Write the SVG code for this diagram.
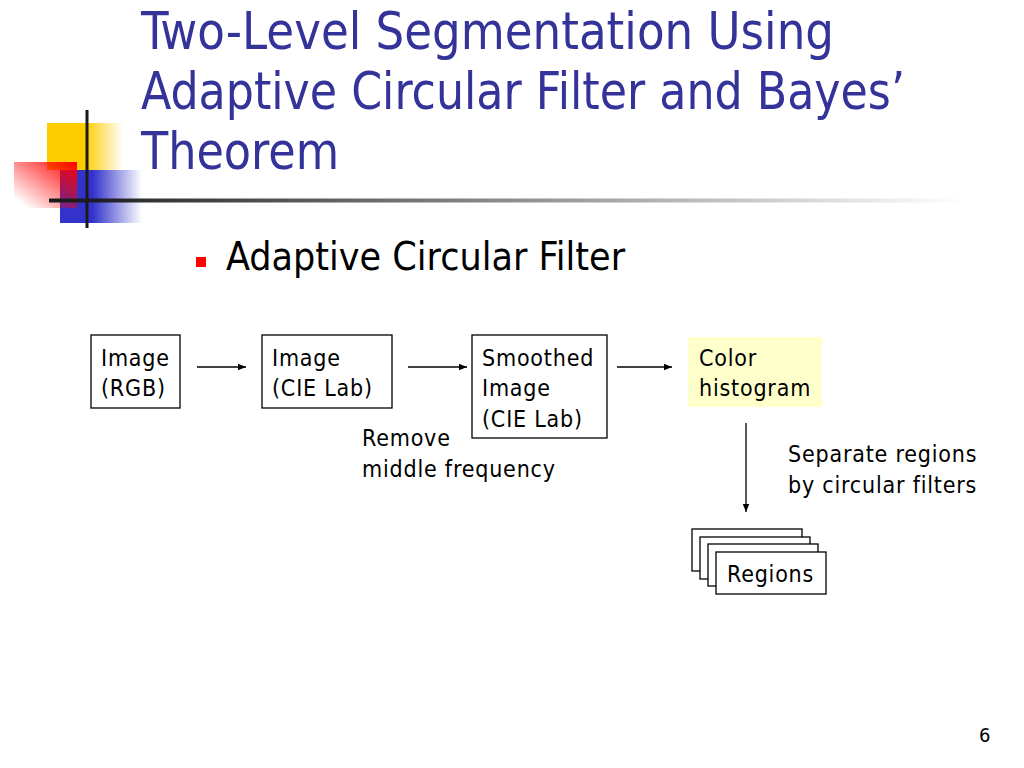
<svg xmlns="http://www.w3.org/2000/svg" width="1024" height="768" viewBox="0 0 1024 768">
<defs>
<style>
.title{font-family:"DejaVu Sans Condensed","DejaVu Sans",sans-serif;font-size:51px;fill:#333399}
.body{font-family:"DejaVu Sans Condensed","DejaVu Sans",sans-serif;font-size:39px;fill:#000}
.t{font-family:"DejaVu Sans Condensed","DejaVu Sans",sans-serif;font-size:23px;fill:#000;letter-spacing:0.8px}
.box{fill:#fff;stroke:#000;stroke-width:1.3}
.conn{stroke:#000;stroke-width:1.3;fill:none;marker-end:url(#ah)}
</style>
<marker id="ah" viewBox="0 0 10 10" refX="10" refY="5" markerWidth="8" markerHeight="8" markerUnits="userSpaceOnUse" orient="auto"><path d="M0,1 L10,5 L0,9 z" fill="#000"/></marker>
<linearGradient id="gy" x1="0" y1="0" x2="1" y2="0"><stop offset="0.5" stop-color="#FFCC00"/><stop offset="1" stop-color="#FFCC00" stop-opacity="0"/></linearGradient>
<linearGradient id="gb" x1="0" y1="0" x2="1" y2="0"><stop offset="0.4" stop-color="#3333CC"/><stop offset="1" stop-color="#3333CC" stop-opacity="0"/></linearGradient>
<linearGradient id="gr" x1="1" y1="0" x2="0" y2="1"><stop offset="0" stop-color="#FF0000"/><stop offset="0.9" stop-color="#FF0000" stop-opacity="0"/></linearGradient>
<linearGradient id="gl" x1="0" y1="0" x2="1" y2="0"><stop offset="0" stop-color="#1a1a1a"/><stop offset="1" stop-color="#1a1a1a" stop-opacity="0"/></linearGradient>
</defs>
<rect width="1024" height="768" fill="#fff"/>
<g id="logo">
<rect x="47" y="123" width="76" height="47" fill="url(#gy)"/>
<rect x="60" y="170" width="82" height="53" fill="url(#gb)"/>
<rect x="14" y="162" width="63" height="46" fill="url(#gr)"/>
<rect x="49" y="198.5" width="916" height="4" fill="url(#gl)"/>
<rect x="85.5" y="110" width="3" height="118" fill="#1a1a1a"/>
</g>
<g id="title">
<text class="title" x="141" y="49" textLength="693" lengthAdjust="spacingAndGlyphs">Two-Level Segmentation Using</text>
<text class="title" x="141" y="109" textLength="764" lengthAdjust="spacingAndGlyphs">Adaptive Circular Filter and Bayes’</text>
<text class="title" x="141" y="169" textLength="198" lengthAdjust="spacingAndGlyphs">Theorem</text>
</g>
<g id="bullet">
<rect x="196" y="257" width="10" height="10" fill="#FF0000"/>
<text class="body" x="226" y="270">Adaptive Circular Filter</text>
</g>
<g id="connectors">
<line class="conn" x1="197" y1="367" x2="246" y2="367"/>
<line class="conn" x1="408" y1="367" x2="467" y2="367"/>
<line class="conn" x1="617" y1="367" x2="672" y2="367"/>
<line class="conn" x1="746" y1="423" x2="746" y2="512"/>
</g>
<g id="n-rgb">
<rect class="box" x="91" y="335" width="89" height="73"/>
<text class="t" x="101" y="366">Image</text>
<text class="t" x="101" y="396">(RGB)</text>
</g>
<g id="n-cielab">
<rect class="box" x="262" y="335" width="130" height="73"/>
<text class="t" x="272" y="366">Image</text>
<text class="t" x="272" y="396">(CIE Lab)</text>
</g>
<g id="n-smoothed">
<rect class="box" x="472" y="335" width="135" height="103"/>
<text class="t" x="482" y="366">Smoothed</text>
<text class="t" x="482" y="396">Image</text>
<text class="t" x="482" y="427">(CIE Lab)</text>
</g>
<g id="n-histogram">
<rect x="688" y="337" width="134" height="70" fill="#FFFFCC"/>
<text class="t" x="699" y="366">Color</text>
<text class="t" x="699" y="396">histogram</text>
</g>
<g id="n-regions">
<rect class="box" x="692" y="529" width="110" height="42"/>
<rect class="box" x="700" y="537" width="110" height="42"/>
<rect class="box" x="708" y="544" width="110" height="42"/>
<rect class="box" x="716" y="552" width="110" height="42"/>
<text class="t" x="727" y="582">Regions</text>
</g>
<g id="labels">
<text class="t" x="362" y="446">Remove</text>
<text class="t" x="362" y="477">middle frequency</text>
<text class="t" x="788" y="462">Separate regions</text>
<text class="t" x="788" y="493">by circular filters</text>
</g>
<text x="979" y="742" style="font-family:'DejaVu Sans Condensed','DejaVu Sans',sans-serif;font-size:20px;fill:#000">6</text>
</svg>
